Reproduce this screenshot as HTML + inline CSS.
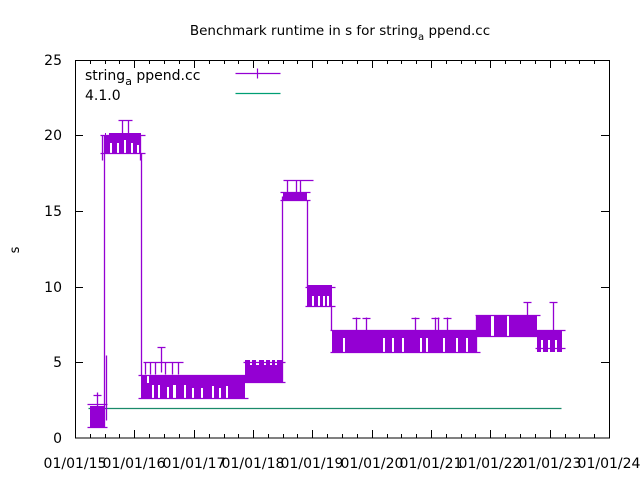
<!DOCTYPE html>
<html><head><meta charset="utf-8"><style>
html,body{margin:0;padding:0;background:#fff}
svg{display:block}
text{font-family:"DejaVu Sans","Liberation Sans",sans-serif;fill:#000}
</style></head><body>
<svg width="640" height="480" viewBox="0 0 640 480" xmlns="http://www.w3.org/2000/svg">
<rect width="640" height="480" fill="#fff"/>
<text x="340" y="35" font-size="13.5" text-anchor="middle">Benchmark runtime in s for string<tspan font-size="10" dy="5">a</tspan><tspan dy="-5"> ppend.cc</tspan></text>
<text x="19" y="250" font-size="13" text-anchor="middle" transform="rotate(-90 19 250)">s</text>
<g font-size="14" text-anchor="end">
<text x="62" y="443">0</text><text x="62" y="367">5</text><text x="62" y="292">10</text>
<text x="62" y="216">15</text><text x="62" y="140">20</text><text x="62" y="65">25</text>
</g>
<g font-size="14" text-anchor="middle">
<text x="75" y="468">01/01/15</text><text x="134" y="468">01/01/16</text><text x="194" y="468">01/01/17</text>
<text x="253" y="468">01/01/18</text><text x="312" y="468">01/01/19</text><text x="372" y="468">01/01/20</text>
<text x="431" y="468">01/01/21</text><text x="490" y="468">01/01/22</text><text x="550" y="468">01/01/23</text>
<text x="609" y="468">01/01/24</text>
</g>
<g stroke="#000" stroke-width="1" fill="none" shape-rendering="crispEdges">
<rect x="75.5" y="60.5" width="534" height="377.5"/>
<path d="M75 362.5h8M75 287.5h8M75 211.5h8M75 135.5h8M609 362.5h-8M609 287.5h-8M609 211.5h-8M609 135.5h-8"/>
<path d="M134.5 438v-8M194.5 438v-8M253.5 438v-8M312.5 438v-8M372.5 438v-8M431.5 438v-8M490.5 438v-8M550.5 438v-8
M134.5 60v8M194.5 60v8M253.5 60v8M312.5 60v8M372.5 60v8M431.5 60v8M490.5 60v8M550.5 60v8"/>
<path d="M90.5 438v-4M105.5 438v-4M119.5 438v-4M149.5 438v-4M164.5 438v-4M179.5 438v-4M209.5 438v-4M224.5 438v-4M238.5 438v-4M268.5 438v-4M283.5 438v-4M297.5 438v-4M327.5 438v-4M342.5 438v-4M357.5 438v-4M387.5 438v-4M401.5 438v-4M416.5 438v-4M446.5 438v-4M461.5 438v-4M475.5 438v-4M505.5 438v-4M520.5 438v-4M535.5 438v-4M565.5 438v-4M579.5 438v-4M594.5 438v-4
M90.5 60v4M105.5 60v4M119.5 60v4M149.5 60v4M164.5 60v4M179.5 60v4M209.5 60v4M224.5 60v4M238.5 60v4M268.5 60v4M283.5 60v4M297.5 60v4M327.5 60v4M342.5 60v4M357.5 60v4M387.5 60v4M401.5 60v4M416.5 60v4M446.5 60v4M461.5 60v4M475.5 60v4M505.5 60v4M520.5 60v4M535.5 60v4M565.5 60v4M579.5 60v4M594.5 60v4"/>
</g>
<text x="85" y="80" font-size="14">string<tspan font-size="11" dy="5">a</tspan><tspan dy="-5"> ppend.cc</tspan></text>
<text x="85" y="100" font-size="14">4.1.0</text>
<g transform="translate(0.5,0.5)">
<path d="M235 73h45M257 68v10" stroke="#9400d3" stroke-width="1.2"/>
<path d="M235 93h45" stroke="#009e73" stroke-width="1.2"/>
<path d="M88 408h473" stroke="#1a8a6a" stroke-width="1.3"/>
</g>
<g fill="#9400d3">
<rect x="90" y="406" width="14" height="21"/>
<rect x="105" y="133" width="36" height="20"/>
<rect x="141" y="375" width="104" height="23"/>
<rect x="245" y="360" width="37" height="22"/>
<rect x="283" y="192" width="24" height="8"/>
<rect x="307" y="285" width="25" height="21"/>
<rect x="332" y="330" width="145" height="22"/>
<rect x="477" y="315" width="60" height="21"/>
<rect x="537" y="330" width="25" height="22"/>
</g>
<g fill="#fff">
<rect x="110" y="143" width="2" height="10"/><rect x="117" y="143" width="2" height="10"/><rect x="124" y="140" width="2" height="13"/><rect x="131" y="143" width="2" height="10"/><rect x="137" y="145" width="2" height="8"/>
<rect x="106" y="133" width="3" height="3"/>
<rect x="147" y="375" width="2" height="8"/><rect x="152" y="385" width="2" height="13"/><rect x="158" y="385" width="2" height="13"/><rect x="167" y="387" width="2" height="11"/><rect x="173" y="385" width="3" height="13"/><rect x="184" y="385" width="2" height="13"/><rect x="192" y="388" width="2" height="10"/><rect x="201" y="388" width="2" height="10"/><rect x="212" y="386" width="2" height="12"/><rect x="219" y="388" width="2" height="10"/><rect x="226" y="386" width="2" height="12"/>
<rect x="250" y="360" width="2" height="5"/><rect x="256" y="360" width="3" height="5"/><rect x="264" y="360" width="2" height="5"/><rect x="270" y="360" width="2" height="5"/><rect x="275" y="360" width="2" height="5"/>
<rect x="312" y="296" width="2" height="10"/><rect x="318" y="296" width="2" height="10"/><rect x="323" y="296" width="2" height="10"/><rect x="327" y="296" width="2" height="10"/>
<rect x="343" y="338" width="2" height="14"/><rect x="383" y="338" width="2" height="14"/><rect x="392" y="338" width="2" height="14"/><rect x="402" y="338" width="2" height="14"/><rect x="420" y="338" width="2" height="14"/><rect x="426" y="338" width="2" height="14"/><rect x="443" y="338" width="2" height="14"/><rect x="456" y="338" width="2" height="14"/><rect x="466" y="338" width="2" height="14"/>
<rect x="491" y="315" width="3" height="21"/><rect x="507" y="315" width="2" height="21"/>
<rect x="541" y="340" width="2" height="12"/><rect x="548" y="340" width="2" height="12"/><rect x="555" y="340" width="2" height="12"/>
</g>
<g stroke="#9400d3" stroke-width="1.3" fill="none" transform="translate(0.5,0.5)">
<path d="M104 427V135M141 153V375M282 382V196M307 200v87M331 306v24M476 352v-37M537 336v-6"/>
<path d="M87 404h20M87 427h20M97 392v15M93 395h8"/>
<path d="M100 135h45M100 153h45M122 120v15M118 120h8M128 120v15M124 120h8M102 135v25M140 135v25M106 420v-65"/>
<path d="M138 375h110M138 398h110M161 347v25M157 347h8M143 362h40M145 362v12M150 362v12M155 362v12M165 362v12M172 362v12M178 362v12"/>
<path d="M243 362h42M243 382h42"/>
<path d="M280 192h30M280 200h30M287 180v12M296 180v12M300 180v12M283 180h30"/>
<path d="M305 287h30M305 306h30"/>
<path d="M330 330h150M330 352h150M356 317v15M352 318h8M366 317v15M362 318h8M415 317v15M411 318h8M435 317v15M431 318h8M438 317v15M447 317v15M443 318h8"/>
<path d="M475 315h65M475 336h65M527 302v15M523 302h8"/>
<path d="M535 330h30M535 348h30M553 302v28M549 302h8"/>
</g>
</svg>
</body></html>
